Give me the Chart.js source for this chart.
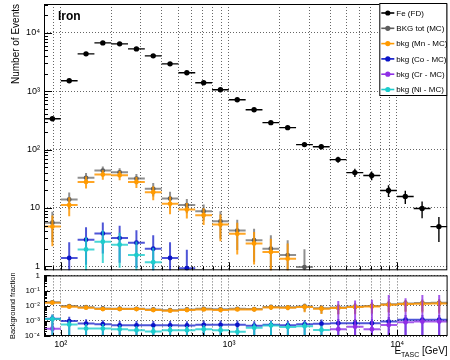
<!DOCTYPE html>
<html>
<head>
<meta charset="utf-8">
<script src="https://cdn.jsdelivr.net/npm/chart.js@4.4.1/dist/chart.umd.min.js"></script>
<style>
  html, body { margin: 0; padding: 0; background: #fff; }
  #wrap { position: relative; width: 450px; height: 360px; background: #fff; overflow: hidden; }
  #top { position: absolute; left: 0; top: 0; }
  #bot { position: absolute; left: 0; top: 273px; }
</style>
</head>
<body>
<div id="wrap">
  <canvas id="top" width="450" height="273"></canvas>
  <canvas id="bot" width="450" height="87"></canvas>
</div>
<script>
// energy bins (GeV), 10 per decade
const binEdges = [79.43, 100, 125.9, 158.5, 199.5, 251.2, 316.2, 398.1, 501.2, 631.0, 794.3, 1000,
  1258.9, 1584.9, 1995.3, 2511.9, 3162.3, 3981.1, 5011.9, 6309.6, 7943.3, 10000, 12589, 15849, 19953];
const binMid = [89.1, 112.2, 141.3, 177.8, 223.9, 281.8, 354.8, 446.7, 562.3, 707.9, 891.3, 1122,
  1413, 1778, 2239, 2818, 3548, 4467, 5623, 7079, 8913, 11220, 14125, 17783];

// number of events
const feCounts = [339, 1512, 4375, 6745, 6490, 5325, 4045, 2950, 2072, 1397, 1061, 716,
  483, 290, 238, 122, 112, 67.5, 40.4, 36, 19.9, 15.7, 9.8, 4.8];
const feErr = [18, 39, 66, 82, 81, 73, 64, 54, 46, 37, 33, 27, 22, 17, 15, 11, 10.6, 8.2, 6.4, 6, 4.5, 4, 3.1, 2.2];
const bkgTot = [5.6, 14, 32.8, 43.8, 40.9, 31.9, 21.3, 14.5, 11.2, 8.8, 5.9, 4.1, 2.8, 2.0, 1.56, 0.97,
  null, null, null, null, null, null, null, null];
const bkgTotErr = [3.0, 4.5, 7, 7.5, 7, 6.5, 5.5, 4.5, 3.1, 2.7, 2.9, 2.2, 1.6, 1.4, 1.25, 1.0,
  0, 0, 0, 0, 0, 0, 0, 0];
const bkgMn = [4.8, 11.2, 28, 37.4, 36.4, 28, 18.6, 11.8, 9.4, 7.5, 5.2, 3.6, 2.47, 1.76, 1.35, null,
  null, null, null, null, null, null, null, null];
const bkgMnErr = [2.6, 4, 6.5, 7, 6.5, 6, 5, 4, 2.8, 2.4, 2.5, 2, 1.4, 1.2, 1.1, 0,
  0, 0, 0, 0, 0, 0, 0, 0];
const bkgCo = [null, 1.39, 2.86, 3.66, 3.05, 2.54, 2.0, 1.39, 0.93, null, null, null,
  null, null, null, null, null, null, null, null, null, null, null, null];
const bkgCoErr = [0, 1.2, 1.8, 2.0, 1.9, 1.6, 1.4, 1.2, 1.0, 0, 0, 0, 0, 0, 0, 0, 0, 0, 0, 0, 0, 0, 0, 0];
const bkgCr = [null, null, null, null, null, null, null, null, null, null, null, null,
  null, null, null, null, null, null, null, null, null, null, null, null];
const bkgCrErr = [0, 0, 0, 0, 0, 0, 0, 0, 0, 0, 0, 0, 0, 0, 0, 0, 0, 0, 0, 0, 0, 0, 0, 0];
const bkgNi = [null, null, 1.95, 2.64, 2.35, 1.56, 1.18, null, null, null, null, null,
  null, null, null, null, null, null, null, null, null, null, null, null];
const bkgNiErr = [0, 0, 1.2, 1.5, 1.4, 1.1, 0.9, 0, 0, 0, 0, 0, 0, 0, 0, 0, 0, 0, 0, 0, 0, 0, 0, 0];

// background fraction (bkg / Fe)
const fracTot = [0.0168, 0.0095, 0.0080, 0.0066, 0.0064, 0.0062, 0.0056, 0.0051, 0.0056, 0.0062, 0.0058, 0.0062,
  0.0060, 0.0082, 0.0078, 0.0090, 0.0068, 0.0076, 0.0088, 0.0096, 0.0124, 0.0140, 0.0148, 0.0155];
const fracTotErr = [0.0028, 0.0014, 0.0011, 0.0009, 0.0009, 0.0009, 0.0009, 0.0009, 0.001, 0.0011, 0.0013, 0.0015,
  0.0017, 0.0024, 0.0026, 0.0048, 0.0038, 0.0048, 0.0058, 0.0065, 0.0085, 0.0095, 0.0105, 0.0115];
const fracMn = [0.0158, 0.0086, 0.0074, 0.0060, 0.0060, 0.0060, 0.0052, 0.0047, 0.0052, 0.0057, 0.0052, 0.0057,
  0.0057, 0.0077, 0.0074, 0.0082, 0.0063, 0.0071, 0.0082, 0.0090, 0.0116, 0.0129, 0.0135, 0.0141];
const fracMnErr = [0.0025, 0.0012, 0.0009, 0.0007, 0.0007, 0.0007, 0.0007, 0.0007, 0.0008, 0.0009, 0.0010, 0.0012,
  0.0014, 0.0022, 0.0024, 0.0045, 0.0035, 0.0045, 0.0055, 0.006, 0.008, 0.009, 0.01, 0.011];
const fracCo = [0.0014, 0.00096, 0.00066, 0.0006, 0.00051, 0.00051, 0.00051, 0.00051, 0.0005, 0.00055, 0.00055, 0.00055,
  0.00048, 0.00055, 0.00052, 0.0006, 0.00065, 0.0007, 0.0007, 0.0007, 0.0009, 0.0012, 0.0012, 0.0012];
const fracCoErr = [0.0012, 0.0009, 0.0006, 0.0005, 0.00045, 0.00045, 0.00045, 0.00045, 0.00045, 0.0005, 0.0005, 0.0005,
  0.00045, 0.0005, 0.0005, 0.00055, 0.0006, 0.00065, 0.00065, 0.00065, 0.0009, 0.0012, 0.0012, 0.0012];
const fracCr = [0.0003, null, null, null, null, null, null, null, null, null, null, null,
  null, null, null, null, null, 0.00028, 0.00041, 0.00028, 0.00054, 0.0008, 0.0009, 0.0009];
const fracCrErr = [0.0003, 0, 0, 0, 0, 0, 0, 0, 0, 0, 0, 0,
  0, 0, 0, 0, 0, 0.02, 0.022, 0.024, 0.05, 0.03, 0.05, 0.05];
const fracNi = [0.0013, 0.00057, 0.00031, 0.00031, 0.00028, 0.00024, 0.0002, 0.00024, 0.00024, 0.00028, 0.00024, 0.00019,
  0.00035, 0.0005, 0.0004, 0.00044, 0.00025, null, null, null, null, null, null, null];
const fracNiErr = [0.0012, 0.0005, 0.0003, 0.0003, 0.00026, 0.00022, 0.00019, 0.00022, 0.00022, 0.00026, 0.00022, 0.00018,
  0.00032, 0.00045, 0.00038, 0.0004, 0.00023, 0, 0, 0, 0, 0, 0, 0];

// axis ticks
const xGridTicks = [80, 90, 100, 200, 300, 400, 500, 600, 700, 800, 900, 1000,
  2000, 3000, 4000, 5000, 6000, 7000, 8000, 9000, 10000];
const xLabelTicks = [100, 1000, 10000];
const xLabels = ['10²', '10³', '10⁴'];
const yTopTicks = [1, 10, 100, 1000, 10000];
const yTopLabels = ['1', '10', '10²', '10³', '10⁴'];
const yBotTicks = [0.0001, 0.001, 0.01, 0.1, 1];
const yBotLabels = ['10⁻⁴', '10⁻³', '10⁻²', '10⁻¹', '1'];

const FONT = '"Liberation Sans", Arial, Helvetica, sans-serif';
Chart.defaults.font.family = FONT;
Chart.defaults.color = '#000';

const series = [
  { label: 'Fe (FD)', color: '#000000', bar: '#000000', bw: 1.4, r: 2.7, order: 0, top: feCounts, topErr: feErr },
  { label: 'BKG tot (MC)', color: '#5e5e5e', bar: 'rgba(95,95,95,0.7)', bw: 2, r: 2.4, order: 5, top: bkgTot, topErr: bkgTotErr, frac: fracTot, fracErr: fracTotErr },
  { label: 'bkg (Mn - MC)', color: '#ff9a00', bar: 'rgba(255,150,0,0.85)', bw: 2, r: 2.4, order: 4, top: bkgMn, topErr: bkgMnErr, frac: fracMn, fracErr: fracMnErr },
  { label: 'bkg (Co - MC)', color: '#0a14c8', bar: 'rgba(10,20,200,0.72)', bw: 2, r: 2.4, order: 3, top: bkgCo, topErr: bkgCoErr, frac: fracCo, fracErr: fracCoErr },
  { label: 'bkg (Cr - MC)', color: '#8f2fe6', bar: 'rgba(143,47,230,0.8)', bw: 2, r: 2.4, order: 2, top: bkgCr, topErr: bkgCrErr, frac: fracCr, fracErr: fracCrErr },
  { label: 'bkg (Ni - MC)', color: '#1ccccc', bar: 'rgba(28,204,204,0.8)', bw: 2, r: 2.4, order: 1, top: bkgNi, topErr: bkgNiErr, frac: fracNi, fracErr: fracNiErr }
];

function points(vals, errs) {
  const out = [];
  vals.forEach((v, i) => {
    if (v == null) return;
    out.push({ x: binMid[i], y: v, lo: binEdges[i], hi: binEdges[i + 1], e: errs[i] });
  });
  return out;
}

function makeDataset(s, vals, errs) {
  return {
    label: s.label,
    data: points(vals, errs),
    order: s.order,
    showLine: false,
    pointRadius: s.r,
    pointHoverRadius: s.r,
    pointBackgroundColor: s.color,
    pointBorderColor: s.color,
    pointBorderWidth: 0,
    barColor: s.bar,
    barWidth: s.bw
  };
}

// horizontal bin-width bar + vertical error bar, drawn just before each dataset's markers
const errorBars = {
  id: 'errorBars',
  beforeDatasetDraw(chart, args) {
    const ds = chart.data.datasets[args.index];
    const { ctx, chartArea: a, scales: { x, y } } = chart;
    ctx.save();
    ctx.beginPath();
    ctx.rect(a.left, a.top, a.width, a.height);
    ctx.clip();
    ctx.strokeStyle = ds.barColor;
    ctx.lineWidth = ds.barWidth;
    ctx.beginPath();
    ds.data.forEach(p => {
      const px = x.getPixelForValue(p.x), py = y.getPixelForValue(p.y);
      ctx.moveTo(x.getPixelForValue(p.lo), py);
      ctx.lineTo(x.getPixelForValue(p.hi), py);
      if (p.e > 0) {
        const up = y.getPixelForValue(p.y + p.e);
        const dn = p.y - p.e > y.min ? y.getPixelForValue(p.y - p.e) : a.bottom + 2;
        ctx.moveTo(px, up);
        ctx.lineTo(px, dn);
      }
    });
    ctx.stroke();
    ctx.restore();
  }
};

// ROOT-like frame with inward ticks
const rootFrame = {
  id: 'rootFrame',
  afterDatasetsDraw(chart, args, opts) {
    const { ctx, chartArea: a, scales: { x, y } } = chart;
    ctx.save();
    ctx.strokeStyle = '#000';
    ctx.lineWidth = 1;
    ctx.beginPath();
    xGridTicks.forEach(v => {
      if (v < x.min || v > x.max) return;
      const px = Math.round(x.getPixelForValue(v)) + 0.5;
      const len = xLabelTicks.includes(v) ? opts.major : opts.minor;
      ctx.moveTo(px, a.bottom);
      ctx.lineTo(px, a.bottom - len);
    });
    for (let d = Math.floor(Math.log10(y.min)); d <= Math.ceil(Math.log10(y.max)); d++) {
      for (let m = 1; m <= 9; m++) {
        const v = m * Math.pow(10, d);
        if (v < y.min || v > y.max) continue;
        const py = Math.round(y.getPixelForValue(v)) + 0.5;
        const len = m === 1 ? opts.major : opts.minor;
        ctx.moveTo(a.left, py);
        ctx.lineTo(a.left + len, py);
      }
    }
    ctx.stroke();
    ctx.strokeRect(a.left + 0.5, a.top + 0.5, a.width - 1, a.height - 1);
    ctx.restore();
  }
};

const topDecor = {
  id: 'topDecor',
  afterDraw(chart) {
    const { ctx, chartArea: a } = chart;
    ctx.save();
    ctx.fillStyle = '#000';
    ctx.font = 'bold 12px ' + FONT;
    ctx.textBaseline = 'alphabetic';
    ctx.fillText('Iron', a.left + 14, a.top + 16);

    // legend box
    const w = 68, h = 93;
    const lx = a.right - w, ly = a.top - 1;
    ctx.fillStyle = '#fff';
    ctx.fillRect(lx, ly, w, h);
    ctx.strokeStyle = '#000';
    ctx.lineWidth = 1;
    ctx.strokeRect(lx + 0.5, ly + 0.5, w - 1, h - 1);
    ctx.font = '8px ' + FONT;
    ctx.textBaseline = 'middle';
    series.forEach((s, i) => {
      const cy = ly + 10 + i * 15.3;
      ctx.strokeStyle = s.color;
      ctx.lineWidth = 1.6;
      ctx.beginPath();
      ctx.moveTo(lx + 2, cy);
      ctx.lineTo(lx + 15, cy);
      ctx.stroke();
      ctx.fillStyle = s.color;
      ctx.beginPath();
      ctx.arc(lx + 8.5, cy, 2.6, 0, Math.PI * 2);
      ctx.fill();
      ctx.fillStyle = '#000';
      ctx.fillText(s.label, lx + 17, cy + 0.5);
    });
    ctx.restore();
  }
};

const botDecor = {
  id: 'botDecor',
  afterDraw(chart) {
    const { ctx, chartArea: a } = chart;
    ctx.save();
    ctx.fillStyle = '#000';
    ctx.textBaseline = 'alphabetic';
    const big = '10px ' + FONT, small = '7px ' + FONT;
    ctx.font = big;
    const wE = ctx.measureText('E').width;
    const wG = ctx.measureText(' [GeV]').width;
    ctx.font = small;
    const wT = ctx.measureText('TASC').width;
    const x0 = a.right - (wE + wT + wG);
    const base = a.bottom + 18;
    ctx.font = big;
    ctx.fillText('E', x0, base);
    ctx.font = small;
    ctx.fillText('TASC', x0 + wE, base + 2.5);
    ctx.font = big;
    ctx.fillText(' [GeV]', x0 + wE + wT, base);
    ctx.restore();
  }
};

function fixWidth(w) {
  return s => { s.width = w; s.paddingTop = 0; s.paddingBottom = 0; };
}
function fixHeight(h) {
  return s => { s.height = h; s.paddingLeft = 0; s.paddingRight = 0; };
}
function setTicks(vals) {
  return s => { s.ticks = vals.map(v => ({ value: v })); };
}

const gridStyle = { color: 'rgba(0,0,0,0.6)', lineWidth: 1, drawTicks: false };
const borderStyle = { display: false, dash: [1, 2] };

new Chart(document.getElementById('top'), {
  type: 'scatter',
  data: { datasets: series.map(s => makeDataset(s, s.top, s.topErr)) },
  options: {
    responsive: false,
    animation: false,
    events: [],
    layout: { padding: { top: 4, right: 2, bottom: 0, left: 0 } },
    plugins: { legend: { display: false }, tooltip: { enabled: false }, rootFrame: { major: 8, minor: 4 } },
    scales: {
      x: {
        type: 'logarithmic', min: 79.43, max: 19953,
        afterBuildTicks: setTicks(xGridTicks),
        afterFit: fixHeight(2),
        grid: gridStyle, border: borderStyle,
        ticks: { display: false, autoSkip: false }
      },
      y: {
        type: 'logarithmic', min: 0.855, max: 31300,
        afterBuildTicks: setTicks(yTopTicks),
        afterFit: fixWidth(44),
        grid: gridStyle, border: borderStyle,
        ticks: {
          autoSkip: false, padding: 4, font: { size: 9 },
          callback: v => yTopLabels[yTopTicks.indexOf(v)]
        },
        title: { display: true, text: 'Number of Events', align: 'end', font: { size: 10 }, padding: { top: 10, bottom: 0 } }
      }
    }
  },
  plugins: [errorBars, rootFrame, topDecor]
});

new Chart(document.getElementById('bot'), {
  type: 'scatter',
  data: { datasets: series.filter(s => s.frac).map(s => makeDataset(s, s.frac, s.fracErr)) },
  options: {
    responsive: false,
    animation: false,
    events: [],
    layout: { padding: { top: 2, right: 2, bottom: 0, left: 0 } },
    plugins: { legend: { display: false }, tooltip: { enabled: false }, rootFrame: { major: 6, minor: 3 } },
    scales: {
      x: {
        type: 'logarithmic', min: 79.43, max: 19953,
        afterBuildTicks: setTicks(xGridTicks),
        afterFit: fixHeight(24),
        grid: gridStyle, border: borderStyle,
        ticks: {
          autoSkip: false, maxRotation: 0, padding: 3, font: { size: 9 },
          callback: v => { const i = xLabelTicks.indexOf(v); return i < 0 ? '' : xLabels[i]; }
        }
      },
      y: {
        type: 'logarithmic', min: 0.0001, max: 1,
        afterBuildTicks: setTicks(yBotTicks),
        afterFit: fixWidth(44),
        grid: gridStyle, border: borderStyle,
        ticks: {
          autoSkip: false, padding: 4, font: { size: 8 },
          callback: v => yBotLabels[yBotTicks.indexOf(v)]
        },
        title: { display: true, text: 'Background fraction', align: 'center', font: { size: 7.5 }, padding: { top: 8, bottom: 0 } }
      }
    }
  },
  plugins: [errorBars, rootFrame, botDecor]
});
</script>
</body>
</html>
